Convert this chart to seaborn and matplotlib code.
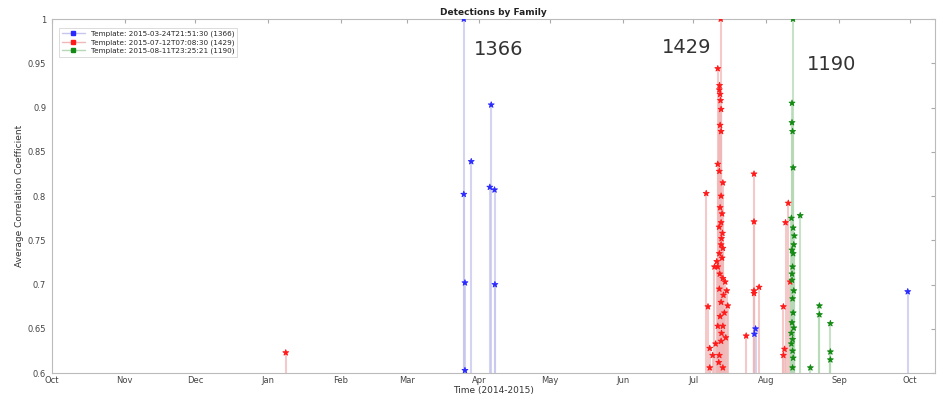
import matplotlib
matplotlib.use("Agg")
import matplotlib.pyplot as plt
import matplotlib.dates as mdates
from matplotlib.lines import Line2D
import pandas as pd
import seaborn as sns

# ---- data -------------------------------------------------------------
families = ["Template: 2015-03-24T21:51:30 (1366)",
            "Template: 2015-07-12T07:08:30 (1429)",
            "Template: 2015-08-11T23:25:21 (1190)"]
family_ids = ["1366", "1429", "1190"]

blue_dates = ["2015-03-25 08:00", "2015-03-25 08:00", "2015-03-25 20:00", "2015-03-25 20:00",
              "2015-03-28 12:00", "2015-04-06 00:00", "2015-04-05 10:00", "2015-04-07 10:00",
              "2015-04-07 14:00", "2015-07-27 00:00", "2015-07-27 12:00", "2015-09-30 06:00"]
blue_vals = [1.0, 0.802, 0.702, 0.603, 0.839, 0.903, 0.81, 0.807, 0.70, 0.644, 0.65, 0.692]

red_dates = ["2015-01-08 14:00",
             "2015-07-06 12:00", "2015-07-07 06:00", "2015-07-08 00:00", "2015-07-08 00:00",
             "2015-07-09 06:00", "2015-07-10 00:00", "2015-07-11 10:00", "2015-07-12 02:00",
             "2015-07-12 10:00", "2015-07-12 20:00", "2015-07-12 10:00", "2015-07-12 20:00",
             "2015-07-11 10:00", "2015-07-12 02:00", "2015-07-13 14:00", "2015-07-12 20:00",
             "2015-07-12 10:00", "2015-07-13 06:00", "2015-07-12 20:00", "2015-07-13 10:00",
             "2015-07-12 20:00", "2015-07-13 14:00", "2015-07-12 02:00", "2015-07-13 06:00",
             "2015-07-11 10:00", "2015-07-13 14:00", "2015-07-14 14:00", "2015-07-12 02:00",
             "2015-07-15 06:00", "2015-07-12 20:00", "2015-07-15 16:00", "2015-07-11 10:00",
             "2015-07-13 14:00", "2015-07-12 20:00", "2015-07-12 02:00", "2015-07-13 14:00",
             "2015-07-12 16:00", "2015-07-12 10:00", "2015-07-13 00:00", "2015-07-11 20:00",
             "2015-07-13 20:00", "2015-07-12 06:00", "2015-07-13 00:00", "2015-07-12 00:00",
             "2015-07-12 14:00", "2015-07-12 04:00", "2015-07-10 12:00", "2015-07-14 06:00",
             "2015-07-11 00:00", "2015-07-14 20:00",
             "2015-07-23 12:00", "2015-07-26 20:00", "2015-07-26 20:00", "2015-07-26 20:00",
             "2015-07-26 20:00", "2015-07-29 00:00",
             "2015-08-10 10:00", "2015-08-09 06:00", "2015-08-11 06:00", "2015-08-08 08:00",
             "2015-08-08 20:00", "2015-08-08 08:00"]
red_vals = [0.623,
            0.803, 0.675, 0.628, 0.606,
            0.62, 0.72, 0.944, 0.92,
            0.915, 0.898, 0.88, 0.873,
            0.836, 0.828, 0.815, 0.80,
            0.787, 0.78, 0.77, 0.758,
            0.745, 0.741, 0.735, 0.73,
            0.72, 0.707, 0.703, 0.695,
            0.693, 0.68, 0.676, 0.653,
            0.653, 0.636, 0.62, 0.606,
            1.0, 0.664, 0.645, 0.612,
            0.688, 0.712, 0.752, 0.765,
            0.908, 0.925, 0.633, 0.668,
            0.726, 0.64,
            0.642, 0.825, 0.771, 0.693,
            0.69, 0.697,
            0.792, 0.77, 0.703, 0.675,
            0.627, 0.62]

green_dates = ["2015-08-12 10:00", "2015-08-12 00:00", "2015-08-12 00:00", "2015-08-12 06:00",
               "2015-08-12 12:00", "2015-08-15 12:00", "2015-08-11 18:00", "2015-08-12 12:00",
               "2015-08-13 00:00", "2015-08-12 00:00", "2015-08-12 12:00", "2015-08-12 06:00",
               "2015-08-12 00:00", "2015-08-12 18:00", "2015-08-12 06:00", "2015-08-12 00:00",
               "2015-08-12 18:00", "2015-08-12 06:00", "2015-08-11 18:00", "2015-08-12 12:00",
               "2015-08-12 06:00", "2015-08-12 18:00", "2015-08-12 00:00", "2015-08-12 12:00",
               "2015-08-11 18:00", "2015-08-12 06:00",
               "2015-08-19 20:00", "2015-08-23 16:00", "2015-08-23 16:00",
               "2015-08-28 08:00", "2015-08-28 08:00", "2015-08-28 08:00"]
green_vals = [1.0, 0.905, 0.883, 0.873,
              0.832, 0.778, 0.775, 0.764,
              0.755, 0.739, 0.735, 0.72,
              0.705, 0.693, 0.684, 0.657,
              0.651, 0.638, 0.633, 0.617,
              0.606, 0.745, 0.712, 0.668,
              0.645, 0.625,
              0.606, 0.676, 0.666,
              0.656, 0.624, 0.615]

annot_labels = ["1366", "1429", "1190"]
annot_dates = ["2015-04-09", "2015-06-28", "2015-08-29"]
annot_vals = [0.966, 0.968, 0.949]

month_ticks = pd.date_range("2014-10-01", "2015-10-01", freq="MS")
ytick_vals = [0.6, 0.65, 0.7, 0.75, 0.8, 0.85, 0.9, 0.95, 1.0]
ytick_labels = ["0.6", "0.65", "0.7", "0.75", "0.8", "0.85", "0.9", "0.95", "1"]

# ---- table ------------------------------------------------------------
frames = []
for fam, d, v in zip(families, [blue_dates, red_dates, green_dates],
                     [blue_vals, red_vals, green_vals]):
    frames.append(pd.DataFrame({"date": pd.to_datetime(d), "value": v, "family": fam}))
df = pd.concat(frames, ignore_index=True)

marker_colors = {families[0]: "#2a2aff", families[1]: "#ff1a1a", families[2]: "#138a13"}
stem_colors = {families[0]: "#c6c6ee", families[1]: "#f0b8b8", families[2]: "#b5d9b5"}

# ---- plot -------------------------------------------------------------
sns.set_style("white")
plt.rcParams["font.family"] = ["DejaVu Sans"]

fig = plt.figure(figsize=(9.41, 3.96), dpi=100)
ax = fig.add_axes([0.055, 0.058, 0.939, 0.894])

for fam in families:
    sub = df[df["family"] == fam]
    ax.vlines(sub["date"], 0.6, sub["value"], colors=stem_colors[fam],
              linewidth=1.5, alpha=0.75, zorder=1)

sns.scatterplot(data=df, x="date", y="value", hue="family", palette=marker_colors,
                marker="*", s=20, linewidth=0.6, edgecolor="face", ax=ax,
                legend=False, zorder=3)

for lab, d, v in zip(annot_labels, annot_dates, annot_vals):
    ax.text(pd.Timestamp(d), v, lab, fontsize=14, color="#333333",
            ha="center", va="center")

ax.set_xlim(pd.Timestamp("2014-10-01"), pd.Timestamp("2015-10-12"))
ax.set_ylim(0.6, 1.0)
ax.set_xticks(month_ticks)
ax.xaxis.set_major_formatter(mdates.DateFormatter("%b"))
ax.set_yticks(ytick_vals)
ax.set_yticklabels(ytick_labels)
ax.tick_params(axis="both", direction="in", labelsize=6, labelcolor="#444444",
               color="#aaaaaa", length=3, top=True, right=True, pad=2)
ax.tick_params(axis="y", pad=4)
for s in ax.spines.values():
    s.set_color("#bbbbbb")
    s.set_linewidth(0.8)

ax.set_title("Detections by Family", fontsize=6.5, fontweight="bold", pad=3, color="#222222")
ax.set_xlabel("Time (2014-2015)", fontsize=6.5, labelpad=1, color="#333333")
ax.set_ylabel("Average Correlation Coefficient", fontsize=6.5, labelpad=3, color="#333333")

handles = [Line2D([0], [0], color=stem_colors[f], marker="s", markersize=3.5,
                  markerfacecolor=marker_colors[f], markeredgecolor=marker_colors[f],
                  linewidth=1)
           for f in families]
leg = ax.legend(handles, families, loc="upper left", fontsize=5.2, frameon=True,
                borderpad=0.4, labelspacing=0.25, handlelength=3.2,
                bbox_to_anchor=(0.004, 0.985))
leg.get_frame().set_edgecolor("#cccccc")
leg.get_frame().set_linewidth(0.6)
leg.get_frame().set_boxstyle("square", pad=0)

fig.savefig("out.png", dpi=100)
